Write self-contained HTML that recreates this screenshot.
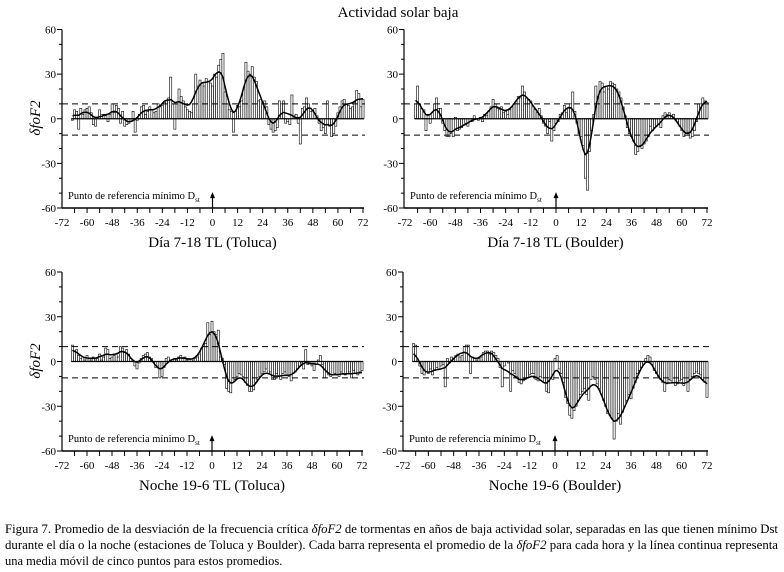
<!DOCTYPE html>
<html><head><meta charset="utf-8"><style>
body{margin:0;background:#fff}
svg{display:block;font-family:"Liberation Serif",serif}
</style></head><body>
<svg id="fig" width="784" height="572" viewBox="0 0 784 572" xmlns="http://www.w3.org/2000/svg">
<text x="398" y="17" font-size="15" text-anchor="middle">Actividad solar baja</text>
<text transform="translate(40,118) rotate(-90)" font-size="15" font-style="italic" text-anchor="middle">δfoF2</text>
<text transform="translate(40,361) rotate(-90)" font-size="15" font-style="italic" text-anchor="middle">δfoF2</text>
<g font-size="12.5">
<text x="5" y="533" textLength="773" lengthAdjust="spacingAndGlyphs">Figura 7. Promedio de la desviación de la frecuencia crítica <tspan font-style="italic">δfoF2</tspan> de tormentas en años de baja actividad solar, separadas en las que tienen mínimo Dst</text>
<text x="5" y="549" textLength="773" lengthAdjust="spacingAndGlyphs">durante el día o la noche (estaciones de Toluca y Boulder). Cada barra representa el promedio de la <tspan font-style="italic">δfoF2</tspan> para cada hora y la línea continua representa</text>
<text x="5" y="565">una media móvil de cinco puntos para estos promedios.</text>
</g>
</svg>
<script>
const hourStart = -67;
const xTicks = [-72,-60,-48,-36,-24,-12,0,12,24,36,48,60,72];
const yTicks = [60,30,0,-30,-60];
const thresholds = [10,-11];
const toluca_day = [-1,6,5,-7,7,3,6,7,8,4,-4,-5, 0,6,3,3,2,-2,3,10,4,9,7,-3, 5,-5,-4,-3,-2,5,-9,-1,3,8,9,3, 5,8,6,4,5,10,8,9,11,12,14,28, 10,-7,10,20,15,12,8,6,5,4,10,30, 22,26,24,22,27,25,24,22,30,28,36,40, 44,18,10,6,5,-9,5,9,8,12,20,38, 32,30,35,28,25,12,13,10,12,8,-4,-7, -9,-8,-6,12,10,12,-3,-2,-4,16,2,3, -3,-17,7,8,14,10,5,6,7,2,-3,-8, -6,-10,12,-5,-12,-10,-5,4,8,12,13,10, 9,7,8,11,19,17,8,13];
const boulder_day = [10,22,10,7,6,-8,3,-3,4,10,14,7, 7,-3,-8,-12,-12,-10,-12,1,-8,-7,-6,-4, -3,-5,0,-2,2,0,-1,1,-2,3,2,5, 8,13,10,7,6,8,4,5,3,6,8,10, 12,15,14,22,18,14,13,12,8,6,4,7, 2,-3,-5,-10,-2,-15,-8,-3,-2,3,4,9, 4,7,10,18,5,-3,-10,-12,-18,-40,-48,-22, -8,3,22,15,25,24,18,22,20,25,24,23, 20,18,14,8,2,-6,-10,-12,-15,-24,-22,-18, -20,-17,-15,-12,-5,-8,-6,-5,-4,-6,2,4, 3,4,2,3,0,-2,-5,-8,-12,-10,-9,-13, -12,-8,-2,10,10,14,12,11];
const toluca_night = [11,7,8,4,2,3,1,4,2,1,3,1, 2,5,1,3,9,8,2,3,4,5,3,10, 9,6,8,5,2,1,-3,-5,-1,2,4,5, 6,3,2,0,-4,-3,-11,-10,-4,2,3,1, 0,2,1,3,4,2,3,1,2,0,1,2, 3,5,9,10,12,26,18,27,20,18,21,3, 2,-2,-18,-20,-21,-14,-12,-10,-8,-9,-10,-14, -16,-20,-20,-19,-14,-12,-10,-8,-7,-5,-8,-7, -12,-12,-8,-10,-12,-8,-7,-9,-10,-13,-8,-7, -5,-3,-1,-5,8,-2,-1,-3,-6,-2,1,4, -2,-11,-7,-9,-10,-9,-8,-9,-10,-7,-8,-9, -8,-7,-11,-6,-8,-9,-7,-6];
const boulder_night = [12,11,1,-3,-8,-9,-7,-8,-5,-9,-6,-4, -5,-3,-2,-17,2,-1,3,2,4,5,3,4, 10,11,11,-8,3,2,1,2,3,6,7,7, 5,7,6,4,2,-4,-17,-3,0,-1,-20,-6, -8,-10,-14,-15,-13,-12,-11,-9,-8,-8,-12,-13, -10,-11,-14,-20,-21,-11,-12,2,4,-5,-8,-14, -24,-28,-36,-38,-33,-30,-26,-22,-20,-18,-22,-26, -12,-10,-12,-15,-18,-22,-26,-30,-35,-36,-38,-52, -40,-35,-42,-34,-30,-26,-22,-25,-18,-14,-8,-6, -4,-2,2,4,3,-2,-6,-8,-10,-12,-14,-20, -15,-12,-13,-14,-16,-15,-13,-12,-16,-14,-20,-12, -10,-8,-7,-8,-9,-12,-14,-24];
const panelTitles = ["Día 7-18 TL (Toluca)","Día 7-18 TL (Boulder)","Noche 19-6 TL (Toluca)","Noche 19-6 (Boulder)"];

const NS="http://www.w3.org/2000/svg";
const svg=document.getElementById('fig');
function mk(tag,attrs,parent){const e=document.createElementNS(NS,tag);for(const k in attrs)e.setAttribute(k,attrs[k]);parent.appendChild(e);return e;}
function ma5(a){return a.map((v,i)=>{let s=0,n=0;for(let j=i-2;j<=i+2;j++){if(j>=0&&j<a.length){s+=a[j];n++;}}return s/n;});}
const panels=[
 {data:toluca_day,x0:62,x1:363,yT:29.5,yB:208,ax:62,name:'toluca-day'},
 {data:boulder_day,x0:405,x1:707,yT:29.5,yB:208,ax:404,name:'boulder-day'},
 {data:toluca_night,x0:62,x1:362,yT:272,yB:451,ax:62,name:'toluca-night'},
 {data:boulder_night,x0:403,x1:707,yT:272,yB:451,ax:403,name:'boulder-night'}];
panels.forEach((p,pi)=>{
 const g=mk('g',{},svg);
 
 
 const X=h=>p.x0+(h+72)*(p.x1-p.x0)/144;
 const Y=v=>p.yB-(v+60)*(p.yB-p.yT)/120;
 const bw=(p.x1-p.x0)/144;
 p.data.forEach((v,i)=>{const h=hourStart+i;
  const r=mk('rect',{x:X(h)-bw/2,y:Math.min(Y(v),Y(0)),width:bw,height:Math.abs(Y(v)-Y(0)),fill:'#fff',stroke:'#000','stroke-width':0.6},g);
  
  
 });
 const zl=mk('line',{x1:X(hourStart)-bw/2,x2:X(72)+bw/2,y1:Y(0),y2:Y(0),stroke:'#000','stroke-width':1.2},g);
 
 
 thresholds.forEach(t=>{const l=mk('line',{x1:p.ax,x2:p.x1+2,y1:Y(t),y2:Y(t),stroke:'#000','stroke-width':1,'stroke-dasharray':'6,4'},g);
  
  });
 const sm=ma5(ma5(p.data));
 const pts=sm.map((v,i)=>X(hourStart+i).toFixed(1)+','+Y(v).toFixed(1)).join(' ');
 const pl=mk('polyline',{points:pts,fill:'none',stroke:'#000','stroke-width':1.5,'stroke-linejoin':'round'},g);
 
 
 const ya=mk('line',{x1:p.ax,x2:p.ax,y1:Y(60),y2:Y(-60),stroke:'#000','stroke-width':1.2},g);
 
 
 const xa=mk('line',{x1:p.ax,x2:p.x1+1,y1:Y(-60),y2:Y(-60),stroke:'#000','stroke-width':1.5},g);
 
 
 for(let v=-60;v<=60;v+=10){mk('line',{x1:p.ax-(v%30===0?5:3),x2:p.ax,y1:Y(v),y2:Y(v),stroke:'#000','stroke-width':1},g);}
 yTicks.forEach(v=>{const t=mk('text',{x:p.ax-6,y:Y(v)+4,'font-size':11,'text-anchor':'end'},g);t.textContent=v;
  
  });
 for(let h=-66;h<=72;h+=6){mk('line',{x1:X(h),x2:X(h),y1:Y(-60),y2:Y(-60)+5,stroke:'#000','stroke-width':1},g);}
 xTicks.forEach(h=>{const t=mk('text',{x:X(h),y:Y(-60)+18,'font-size':11,'text-anchor':'middle'},g);t.textContent=h;
  
  });
 const an=mk('text',{x:p.ax+6,y:Y(-60)-9,'font-size':10.5},g);
 an.textContent='Punto de referencia mínimo D';
 const sub=mk('tspan',{'font-size':7,dy:3},an);sub.textContent='st';
 
 
 const ar=mk('line',{x1:X(0),x2:X(0),y1:Y(-60),y2:Y(-52),stroke:'#000','stroke-width':1.2},g);
 
 
 mk('polygon',{points:`${X(0)-2.5},${Y(-52)+2} ${X(0)+2.5},${Y(-52)+2} ${X(0)},${Y(-52)-4}`,fill:'#000'},g);
 const tt=mk('text',{x:(p.ax+p.x1)/2,y:Y(-60)+39,'font-size':15,'text-anchor':'middle'},g);
 tt.textContent=panelTitles[pi];
 
 
});
</script>
</body></html>
